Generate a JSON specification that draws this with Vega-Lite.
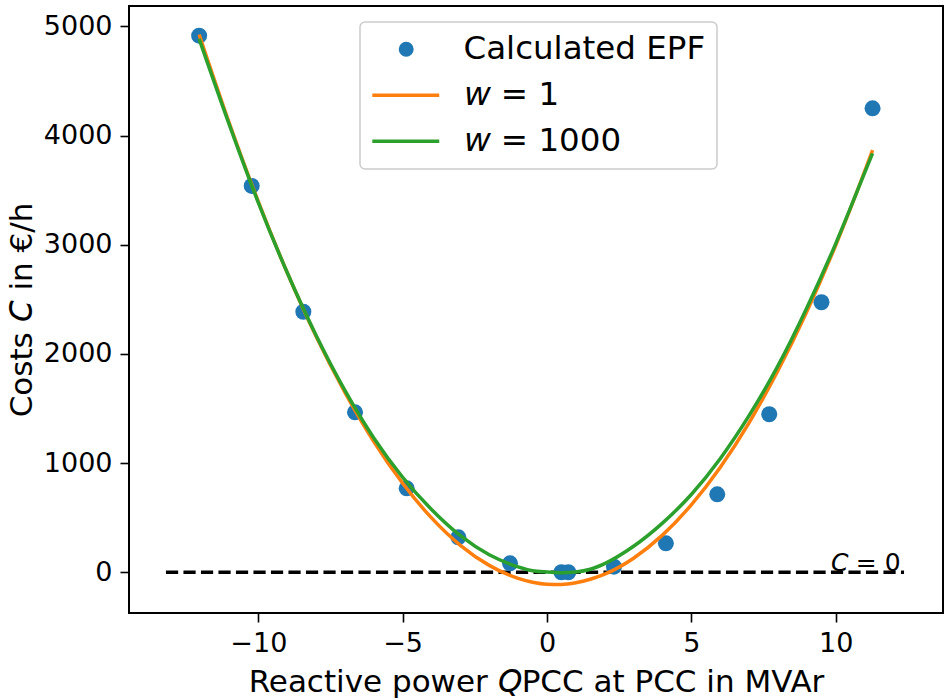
{
  "$schema": "https://vega.github.io/schema/vega-lite/v6.json",
  "width": 814,
  "height": 607,
  "autosize": {"type": "none"},
  "padding": {"left": 129, "top": 6, "right": 9, "bottom": 87},
  "background": "white",
  "config": {
    "font": "DejaVu Sans",
    "view": {"stroke": "black", "strokeWidth": 2},
    "axis": {
      "domain": false, "grid": false, "tickColor": "black", "tickWidth": 1.6, "tickSize": 9,
      "labelPadding": 8, "labelFontSize": 27, "labelColor": "black", "labelFont": "DejaVu Sans",
      "titleFont": "DejaVu Sans", "titleFontSize": 31, "titleFontWeight": "normal", "titleColor": "black"
    }
  },
  "datasets": {
    "refline": [{"x": -13.2, "xe": 12.37, "y": 0}],
    "label": [{"x": 12.25, "y": 8, "t": "\ud835\ude0a = 0"}],
    "points": [
      {"x": -12.05, "y": 4914, "series": "Calculated EPF"},
      {"x": -10.23, "y": 3538, "series": "Calculated EPF"},
      {"x": -8.44, "y": 2386, "series": "Calculated EPF"},
      {"x": -6.65, "y": 1465, "series": "Calculated EPF"},
      {"x": -4.86, "y": 769, "series": "Calculated EPF"},
      {"x": -3.07, "y": 320, "series": "Calculated EPF"},
      {"x": -1.28, "y": 82, "series": "Calculated EPF"},
      {"x": 0.5, "y": 0, "series": "Calculated EPF"},
      {"x": 0.74, "y": 0, "series": "Calculated EPF"},
      {"x": 2.32, "y": 51, "series": "Calculated EPF"},
      {"x": 4.12, "y": 265, "series": "Calculated EPF"},
      {"x": 5.9, "y": 714, "series": "Calculated EPF"},
      {"x": 7.7, "y": 1447, "series": "Calculated EPF"},
      {"x": 9.51, "y": 2473, "series": "Calculated EPF"},
      {"x": 11.28, "y": 4249, "series": "Calculated EPF"}
    ],
    "curves": [
      {"x": -12.05, "y": 4925, "series": "\ud835\ude38 = 1"},
      {"x": -11, "y": 4110, "series": "\ud835\ude38 = 1"},
      {"x": -10, "y": 3395, "series": "\ud835\ude38 = 1"},
      {"x": -9, "y": 2745, "series": "\ud835\ude38 = 1"},
      {"x": -8, "y": 2162, "series": "\ud835\ude38 = 1"},
      {"x": -7, "y": 1648, "series": "\ud835\ude38 = 1"},
      {"x": -6, "y": 1198, "series": "\ud835\ude38 = 1"},
      {"x": -5, "y": 815, "series": "\ud835\ude38 = 1"},
      {"x": -4, "y": 498, "series": "\ud835\ude38 = 1"},
      {"x": -3, "y": 247, "series": "\ud835\ude38 = 1"},
      {"x": -2, "y": 63, "series": "\ud835\ude38 = 1"},
      {"x": -1, "y": -56, "series": "\ud835\ude38 = 1"},
      {"x": -0.5, "y": -91, "series": "\ud835\ude38 = 1"},
      {"x": 0, "y": -109, "series": "\ud835\ude38 = 1"},
      {"x": 0.5, "y": -111, "series": "\ud835\ude38 = 1"},
      {"x": 1, "y": -96, "series": "\ud835\ude38 = 1"},
      {"x": 1.5, "y": -64, "series": "\ud835\ude38 = 1"},
      {"x": 2, "y": -17, "series": "\ud835\ude38 = 1"},
      {"x": 3, "y": 129, "series": "\ud835\ude38 = 1"},
      {"x": 4, "y": 340, "series": "\ud835\ude38 = 1"},
      {"x": 5, "y": 617, "series": "\ud835\ude38 = 1"},
      {"x": 6, "y": 960, "series": "\ud835\ude38 = 1"},
      {"x": 7, "y": 1369, "series": "\ud835\ude38 = 1"},
      {"x": 8, "y": 1845, "series": "\ud835\ude38 = 1"},
      {"x": 9, "y": 2386, "series": "\ud835\ude38 = 1"},
      {"x": 10, "y": 2993, "series": "\ud835\ude38 = 1"},
      {"x": 11, "y": 3666, "series": "\ud835\ude38 = 1"},
      {"x": 11.28, "y": 3866, "series": "\ud835\ude38 = 1"},
      {"x": -12.05, "y": 4885, "series": "\ud835\ude38 = 1000"},
      {"x": -11, "y": 4095, "series": "\ud835\ude38 = 1000"},
      {"x": -10, "y": 3385, "series": "\ud835\ude38 = 1000"},
      {"x": -9, "y": 2745, "series": "\ud835\ude38 = 1000"},
      {"x": -8, "y": 2170, "series": "\ud835\ude38 = 1000"},
      {"x": -7, "y": 1665, "series": "\ud835\ude38 = 1000"},
      {"x": -6, "y": 1230, "series": "\ud835\ude38 = 1000"},
      {"x": -5, "y": 870, "series": "\ud835\ude38 = 1000"},
      {"x": -4, "y": 575, "series": "\ud835\ude38 = 1000"},
      {"x": -3, "y": 335, "series": "\ud835\ude38 = 1000"},
      {"x": -2, "y": 160, "series": "\ud835\ude38 = 1000"},
      {"x": -1, "y": 50, "series": "\ud835\ude38 = 1000"},
      {"x": -0.5, "y": 14, "series": "\ud835\ude38 = 1000"},
      {"x": 0, "y": 2, "series": "\ud835\ude38 = 1000"},
      {"x": 0.5, "y": -4, "series": "\ud835\ude38 = 1000"},
      {"x": 1, "y": 3, "series": "\ud835\ude38 = 1000"},
      {"x": 1.5, "y": 28, "series": "\ud835\ude38 = 1000"},
      {"x": 2, "y": 80, "series": "\ud835\ude38 = 1000"},
      {"x": 3, "y": 238, "series": "\ud835\ude38 = 1000"},
      {"x": 4, "y": 450, "series": "\ud835\ude38 = 1000"},
      {"x": 5, "y": 712, "series": "\ud835\ude38 = 1000"},
      {"x": 6, "y": 1040, "series": "\ud835\ude38 = 1000"},
      {"x": 7, "y": 1434, "series": "\ud835\ude38 = 1000"},
      {"x": 8, "y": 1890, "series": "\ud835\ude38 = 1000"},
      {"x": 9, "y": 2421, "series": "\ud835\ude38 = 1000"},
      {"x": 10, "y": 3008, "series": "\ud835\ude38 = 1000"},
      {"x": 11, "y": 3655, "series": "\ud835\ude38 = 1000"},
      {"x": 11.28, "y": 3837, "series": "\ud835\ude38 = 1000"}
    ]
  },
  "encoding": {
    "x": {
      "field": "x", "type": "quantitative",
      "scale": {"domain": [-14.48, 13.72], "nice": false, "zero": false},
      "axis": {"values": [-10, -5, 0, 5, 10], "format": "d", "title": "Reactive power \ud835\ude18PCC at PCC in MVAr", "titlePadding": 11}
    },
    "y": {
      "field": "y", "type": "quantitative",
      "scale": {"domain": [-373, 5186], "nice": false, "zero": false},
      "axis": {"values": [0, 1000, 2000, 3000, 4000, 5000], "format": "d", "title": "Costs \ud835\ude0a in \u20ac/h", "titlePadding": 5}
    }
  },
  "layer": [
    {
      "data": {"name": "refline"},
      "mark": {"type": "rule", "color": "black", "strokeWidth": 3.3, "strokeDash": [12.2, 5.3]},
      "encoding": {"x2": {"field": "xe"}}
    },
    {
      "data": {"name": "points"},
      "mark": {"type": "point", "filled": true, "size": 256, "opacity": 1},
      "encoding": {
        "color": {"field": "series", "type": "nominal"}
      }
    },
    {
      "data": {"name": "curves"},
      "mark": {"type": "line", "strokeWidth": 3.5, "interpolate": "monotone"},
      "encoding": {
        "color": {
          "field": "series", "type": "nominal",
          "scale": {"domain": ["Calculated EPF", "\ud835\ude38 = 1", "\ud835\ude38 = 1000"], "range": ["#1f77b4", "#ff7f0e", "#2ca02c"]},
          "legend": {
            "orient": "none", "legendX": 231, "legendY": 16, "title": null,
            "fillColor": "rgba(255,255,255,0.8)", "strokeColor": "#cccccc", "cornerRadius": 5, "padding": 11,
            "labelFontSize": 32.5, "labelFont": "DejaVu Sans", "labelColor": "black", "labelLimit": 500,
            "symbolSize": 132, "symbolStrokeWidth": 3.5, "symbolOpacity": 1, "labelOffset": 60, "rowPadding": 13,
            "encode": {
              "symbols": {
                "update": {
                  "shape": {"signal": "datum.value === 'Calculated EPF' ? 'M2.3,0A1,1,0,1,1,4.3,0A1,1,0,1,1,2.3,0Z' : 'M-2.6,0H9.05'"},
                  "fill": {"signal": "datum.value === 'Calculated EPF' ? '#1f77b4' : 'transparent'"},
                  "stroke": {"scale": "color", "field": "value"},
                  "strokeWidth": {"value": 3.5},
                  "size": {"value": 132}
                }
              },
              "legend": {"update": {"strokeWidth": {"value": 1.5}}}
            }
          }
        }
      }
    },
    {
      "data": {"name": "label"},
      "mark": {"type": "text", "align": "right", "baseline": "alphabetic", "fontSize": 25, "color": "black"},
      "encoding": {"text": {"field": "t"}}
    }
  ]
}
